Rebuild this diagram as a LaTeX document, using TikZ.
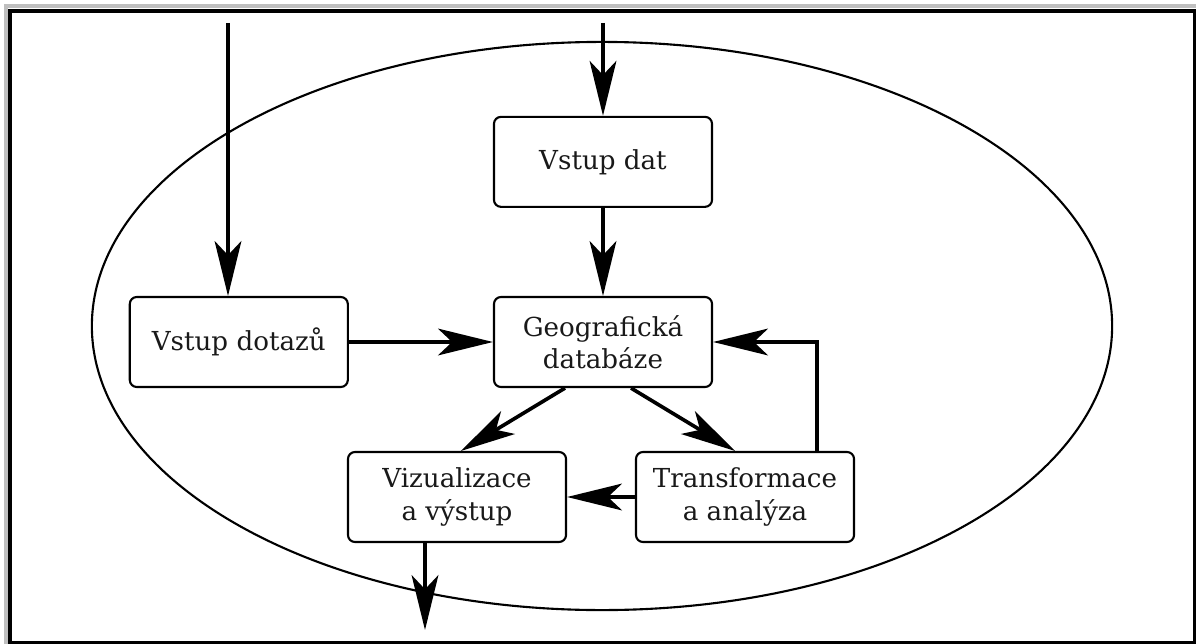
\documentclass[tikz,border=0pt]{standalone}
\usepackage{fontspec}
\setmainfont{DejaVu Serif}
\usetikzlibrary{positioning, shapes.geometric, arrows.meta}

\begin{document}
\begin{tikzpicture}[
        x=0.025cm, y=-0.025cm,
        box/.style={draw, rectangle, rounded corners=5pt, align=center, line width=1.5pt,
                    minimum width=5.45cm, minimum height=2.25cm, text=black!90,
                    font=\fontsize{18.6}{23}\selectfont},
        arrow/.style={-{Stealth[length=39pt, width=19pt, inset=10pt]}, line width=2.6pt}
    ]
    \useasboundingbox (0,0) rectangle (1196,644);
    % frame
    \draw[black!25, line width=2.4pt] (6,644) -- (6,6) -- (1196,6);
    \draw[line width=2.2pt] (10,11) rectangle (1195,643);

    % system boundary
    \node[draw, ellipse, line width=1.5pt, minimum width=25.5cm, minimum height=14.2cm] (gis) at (602,326) {};

    \node[box] (geo) at (603,342) {Geografická\\databáze};
    \node[box, above=2.2cm of geo] (vstupdat) {Vstup dat};
    \node[box, left=3.6cm of geo] (dotazy) {Vstup dotazů};
    \node[box] (vizual) at (457,497) {Vizualizace\\a výstup};
    \node[box] (transf) at (745,497) {Transformace\\a analýza};

    \coordinate (indotazy) at (228,23);
    \coordinate (indata) at (603,23);
    \coordinate (vystup) at (425,630);

    \draw[arrow] (indotazy) -- (indotazy |- dotazy.north);
    \draw[arrow] (indata) -- (vstupdat.north);
    \draw[arrow] (vstupdat) -- (geo);
    \draw[arrow] (dotazy) -- (geo);
    \draw[arrow] ([xshift=-0.95cm]geo.south) -- ([xshift=0.1cm]vizual.north);
    \draw[arrow] ([xshift=0.7cm]geo.south) -- ([xshift=-0.25cm]transf.north);
    \draw[arrow] (transf) -- (vizual);
    \draw[arrow] ([xshift=1.8cm]transf.north) |- (geo.east);
    \draw[arrow] (vizual.south -| vystup) -- (vystup);
\end{tikzpicture}
\end{document}
